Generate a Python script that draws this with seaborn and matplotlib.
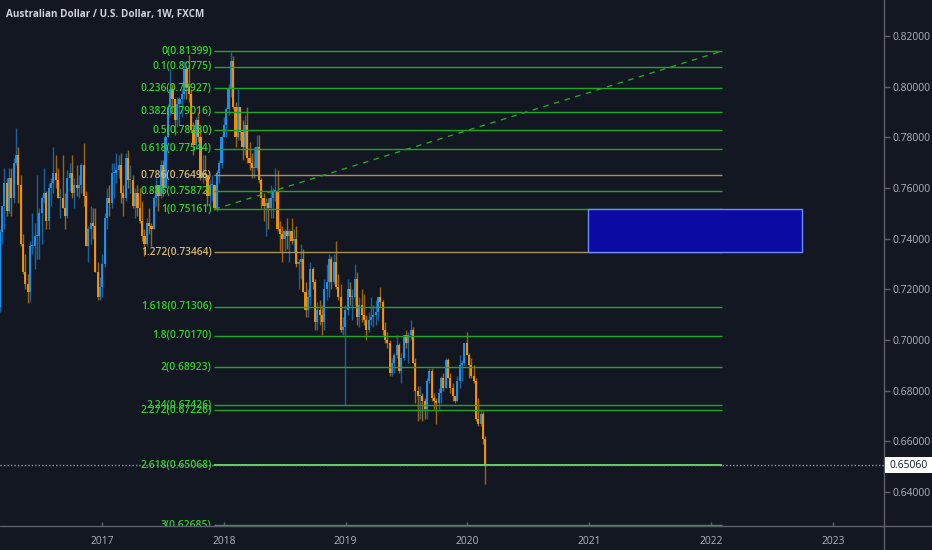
import numpy as np
import pandas as pd
import matplotlib
matplotlib.use("Agg")
import matplotlib.pyplot as plt
import matplotlib.dates as mdates
import matplotlib.transforms as mtrans
from matplotlib.patches import Rectangle
from matplotlib.lines import Line2D
import seaborn as sns

# ---------------- data ----------------
title = "Australian Dollar / U.S. Dollar, 1W, FXCM"
first_week = "2016-02-29"
first_open = 0.7130

highs = [
    .7440, .7530, .7680, .7640, .7680, .7680, .7720, .7835, .7760, .7650,
    .7420, .7340, .7260, .7390, .7500, .7460, .7650, .7520, .7570, .7680,
    .7590, .7620, .7640, .7760, .7730, .7680, .7600, .7730, .7580, .7670,
    .7700, .7730, .7640, .7690, .7650, .7700, .7778, .7590, .7450, .7530,
    .7520, .7520, .7310, .7250,
    .7340, .7500, .7600, .7610, .7700, .7700, .7740, .7730, .7740, .7610,
    .7740, .7750, .7690, .7650, .7600, .7610, .7600, .7550, .7440, .7480,
    .7520, .7460, .7570, .7640, .7610, .7710, .7710, .7810, .7930, .8070,
    .8010, .7950, .7960, .7960, .7990, .8100, .8080, .8125, .7990, .7860,
    .7880, .7900, .7840, .7730, .7730, .7650, .7630, .7650, .7610, .7670,
    .7710, .7810,
    .7880, .7920, .8010, .8136, .8120, .7940, .7990, .7920, .7870, .7890,
    .7920, .7780, .7740, .7760, .7810, .7810, .7640, .7580, .7560, .7560,
    .7610, .7600, .7680, .7670, .7470, .7450, .7440, .7480, .7440, .7480,
    .7440, .7450, .7320, .7380, .7360, .7230, .7200, .7310, .7290, .7240,
    .7150, .7160, .7140, .7240, .7300, .7340, .7330, .7340, .7390, .7260,
    .7220, .7090,
    .7140, .7240, .7230, .7200, .7300, .7270, .7170, .7200, .7180, .7100,
    .7110, .7170, .7140, .7160, .7170, .7210, .7160, .7070, .7030, .7000,
    .6930, .6950, .7020, .6990, .6950, .7020, .7040, .7030, .7080, .7050,
    .6930, .6820, .6820, .6790, .6770, .6850, .6890, .6890, .6790, .6770,
    .6810, .6860, .6870, .6930, .6930, .6870, .6830, .6780, .6860, .6940,
    .6920, .6990,
    .7032, .6950, .6930, .6900, .6850, .6770, .6730, .6720, .6620,
]

lows = [
    .7110, .7380, .7440, .7490, .7500, .7490, .7540, .7690, .7540, .7370,
    .7260, .7200, .7145, .7150, .7340, .7280, .7320, .7320, .7380, .7540,
    .7440, .7440, .7530, .7580, .7600, .7560, .7480, .7520, .7440, .7480,
    .7590, .7560, .7520, .7570, .7560, .7580, .7530, .7370, .7310, .7380,
    .7400, .7270, .7160, .7160,
    .7170, .7290, .7440, .7490, .7520, .7560, .7620, .7640, .7540, .7490,
    .7550, .7600, .7580, .7520, .7480, .7490, .7460, .7390, .7330, .7370,
    .7420, .7370, .7440, .7530, .7510, .7560, .7570, .7600, .7800, .7890,
    .7900, .7810, .7840, .7850, .7880, .7950, .7950, .7940, .7820, .7730,
    .7760, .7780, .7630, .7620, .7630, .7530, .7530, .7550, .7514, .7510,
    .7620, .7680,
    .7800, .7800, .7890, .7960, .7910, .7760, .7790, .7790, .7710, .7730,
    .7700, .7670, .7640, .7640, .7670, .7620, .7520, .7470, .7410, .7440,
    .7480, .7480, .7550, .7430, .7350, .7310, .7350, .7360, .7310, .7380,
    .7350, .7290, .7200, .7240, .7190, .7090, .7090, .7140, .7200, .7040,
    .7040, .7060, .7020, .7040, .7160, .7170, .7200, .7220, .7200, .7160,
    .7030, .7020,
    .6742, .7100, .7140, .7080, .7140, .7060, .7050, .7070, .7060, .7000,
    .7030, .7060, .7050, .7060, .7080, .7130, .7020, .6990, .6970, .6860,
    .6860, .6870, .6930, .6870, .6830, .6920, .6970, .6910, .7000, .6910,
    .6750, .6680, .6690, .6680, .6690, .6690, .6830, .6760, .6730, .6670,
    .6730, .6750, .6800, .6810, .6850, .6790, .6760, .6750, .6760, .6810,
    .6840, .6900,
    .6940, .6850, .6850, .6830, .6680, .6660, .6660, .6590, .6434,
]

closes = [
    .7425, .7530, .7620, .7510, .7640, .7560, .7700, .7730, .7610, .7380,
    .7270, .7220, .7190, .7370, .7370, .7410, .7410, .7500, .7560, .7580,
    .7470, .7600, .7620, .7660, .7630, .7560, .7560, .7520, .7490, .7640,
    .7660, .7580, .7610, .7600, .7610, .7690, .7570, .7370, .7440, .7460,
    .7450, .7270, .7170, .7210,
    .7300, .7480, .7560, .7540, .7660, .7660, .7670, .7690, .7580, .7560,
    .7720, .7630, .7630, .7530, .7580, .7520, .7470, .7410, .7380, .7460,
    .7450, .7440, .7560, .7610, .7570, .7690, .7600, .7800, .7920, .7990,
    .7950, .7870, .7930, .7950, .7970, .8070, .8000, .7970, .7830, .7770,
    .7870, .7800, .7640, .7660, .7650, .7570, .7610, .7610, .7520, .7660,
    .7700, .7800,
    .7850, .7910, .7990, .8100, .7920, .7800, .7920, .7820, .7760, .7850,
    .7720, .7700, .7680, .7680, .7760, .7630, .7560, .7530, .7540, .7520,
    .7560, .7590, .7590, .7440, .7420, .7400, .7430, .7410, .7430, .7390,
    .7400, .7300, .7310, .7320, .7190, .7120, .7170, .7280, .7230, .7070,
    .7120, .7100, .7070, .7200, .7230, .7320, .7230, .7310, .7210, .7170,
    .7040, .7050,
    .7120, .7200, .7170, .7170, .7240, .7090, .7140, .7100, .7080, .7040,
    .7080, .7090, .7100, .7110, .7170, .7150, .7040, .7000, .6990, .6870,
    .6910, .6940, .6980, .6880, .6930, .7020, .6990, .7020, .7040, .6910,
    .6800, .6780, .6780, .6760, .6730, .6840, .6880, .6770, .6760, .6750,
    .6790, .6850, .6810, .6920, .6850, .6810, .6780, .6760, .6840, .6900,
    .6910, .6990,
    .6940, .6900, .6860, .6840, .6690, .6670, .6710, .6610, .6506,
]

fib_ratios = ["0", "0.1", "0.236", "0.382", "0.5", "0.618", "0.786", "0.886",
              "1", "1.272", "1.618", "1.8", "2", "2.24", "2.272", "2.618", "3"]
fib_prices = [0.81399, 0.80775, 0.79927, 0.79016, 0.78280, 0.77544, 0.76496,
              0.75872, 0.75161, 0.73464, 0.71306, 0.70170, 0.68923, 0.67426,
              0.67226, 0.65068, 0.62685]
fib_start = "2017-12-04"
fib_end = "2022-02-01"

zone_start = "2020-12-27"
zone_end = "2022-09-30"
zone_top = 0.75161
zone_bottom = 0.73464

last_price = 0.65060
year_labels = ["2017", "2018", "2019", "2020", "2021", "2022", "2023"]
price_ticks = [0.64, 0.66, 0.68, 0.70, 0.72, 0.74, 0.76, 0.78, 0.80, 0.82]

# ---------------- styling ----------------
BG = "#131722"
UP = "#2196f3"
DOWN = "#ff9800"
AXIS = "#5d606b"
TXT = "#b2b5be"
GREEN_LINE = "#22a522"
GREEN_TXT = "#33d12b"
GOLD_LINE = "#a8925c"
GOLD_TXT = "#d4b970"

sns.set_theme(style="dark", rc={"axes.facecolor": BG, "figure.facecolor": BG})
plt.rcParams["font.family"] = ["Open Sans", "DejaVu Sans"]

fig = plt.figure(figsize=(9.32, 5.5), dpi=100)
ax = fig.add_axes([0, 24 / 550, 884 / 932, 526 / 550])
ax.set_facecolor(BG)

dates = pd.date_range(first_week, periods=len(closes), freq="7D")
x = mdates.date2num(dates.to_pydatetime())
c = np.array(closes)
o = np.array([first_open] + closes[:-1])
h = np.array(highs)
l = np.array(lows)
up = c >= o

df = pd.DataFrame({"x": x, "open": o, "close": c, "high": h, "low": l,
                   "dir": np.where(up, "up", "down")})

for d, col in (("up", UP), ("down", DOWN)):
    sub = df[df["dir"] == d]
    ax.vlines(sub["x"], sub["low"], sub["high"], color=col, lw=1.0, alpha=0.6, zorder=3)
    body = (sub["close"] - sub["open"]).to_numpy()
    body = np.where(np.abs(body) < 0.0004, 0.0004, body)
    ax.bar(sub["x"], body, bottom=sub["open"], width=6.4, color=col,
           alpha=0.92, linewidth=0, zorder=4)

# fib levels
xs = mdates.date2num(pd.Timestamp(fib_start))
xe = mdates.date2num(pd.Timestamp(fib_end))
gold = {"0.786", "1.272"}
for r, p in zip(fib_ratios, fib_prices):
    lc = GOLD_LINE if r in gold else GREEN_LINE
    tc = GOLD_TXT if r in gold else GREEN_TXT
    lw = 1.0
    if r == "2.618":
        lc = "#62d862"
        lw = 1.4
    ax.hlines(p, xs, xe, color=lc, lw=lw, zorder=5)
    ax.annotate(f"{r}({p:.5f})", xy=(xs, p), xytext=(-2, 0),
                textcoords="offset points", ha="right", va="center",
                fontsize=7.4, color=tc, fontweight="semibold",
                annotation_clip=False, clip_on=True, zorder=6)

# dashed trend line
trend = pd.DataFrame({"x": [xs, xe], "y": [fib_prices[8], fib_prices[0]]})
sns.lineplot(data=trend, x="x", y="y", ax=ax, color=GREEN_LINE, lw=1.0,
             linestyle=(0, (4, 4)), zorder=5)

# blue zone
zx0 = mdates.date2num(pd.Timestamp(zone_start))
zx1 = mdates.date2num(pd.Timestamp(zone_end))
ax.add_patch(Rectangle((zx0, zone_bottom), zx1 - zx0, zone_top - zone_bottom,
                       facecolor="#0b0ba3", edgecolor="#6f8cff", lw=1.0, zorder=7))

# current price line
ax.axhline(last_price, color="#9598a1", lw=1.0, ls=(0, (1, 1.5)), zorder=8)

ax.set_xlim(mdates.date2num(pd.Timestamp("2016-03-01")),
            mdates.date2num(pd.Timestamp("2023-06-03")))
ax.set_ylim(0.62665, 0.83418)

for s in ("top", "left", "right", "bottom"):
    ax.spines[s].set_visible(False)

fig.add_artist(Line2D([884 / 932, 884 / 932], [0, 1], transform=fig.transFigure,
                      color=AXIS, lw=1.0))
fig.add_artist(Line2D([0, 1], [24 / 550, 24 / 550], transform=fig.transFigure,
                      color=AXIS, lw=1.0))

ax.yaxis.tick_right()
ax.set_yticks(price_ticks)
ax.set_yticklabels([f"{v:.5f}" for v in price_ticks])
ax.set_xticks([mdates.date2num(pd.Timestamp(f"{y}-01-01")) for y in year_labels])
ax.set_xticklabels(year_labels)
ax.tick_params(axis="y", which="both", right=True, left=False, direction="out",
               length=4, width=1, color=AXIS, labelcolor=TXT, labelsize=7.4, pad=2)
ax.tick_params(axis="x", which="both", bottom=True, direction="in",
               length=3, width=1, color=AXIS, labelcolor=TXT, labelsize=7.4, pad=7)
ax.set_xlabel("")
ax.set_ylabel("")
ax.grid(False)

# last price tag: white box on the price scale
ftrans = mtrans.blended_transform_factory(fig.transFigure, ax.transData)
half = 8 / 2539
fig.add_artist(Rectangle((885 / 932, last_price - half), 47 / 932, 2 * half,
                         transform=ftrans, facecolor="white", edgecolor="none",
                         zorder=9))
fig.text(889 / 932, last_price, f"{last_price:.5f}", transform=ftrans,
         ha="left", va="center", fontsize=7.4, color="#131722", zorder=10)

fig.text(6 / 932, 1 - 15 / 550, title, ha="left", va="center", fontsize=7.1,
         color="#d1d4dc", fontweight="bold")

fig.savefig("out.png", dpi=100, facecolor=BG)
